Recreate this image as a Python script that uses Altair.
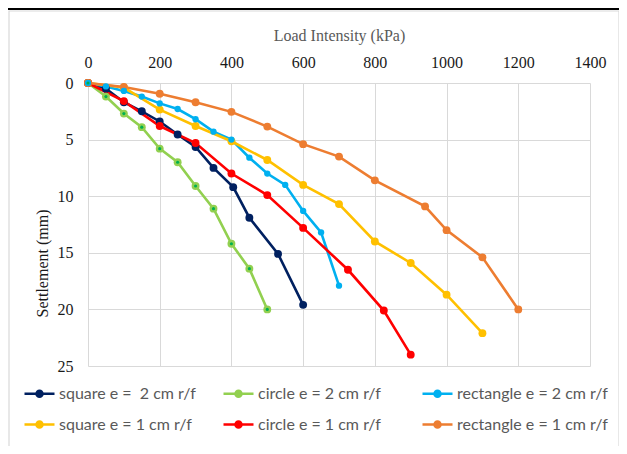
import altair as alt
import pandas as pd

series_names = [
    "square e =  2 cm r/f",
    "circle e = 2 cm r/f",
    "rectangle e = 2 cm r/f",
    "square e = 1 cm r/f",
    "circle e = 1 cm r/f",
    "rectangle e = 1 cm r/f",
]
series_colors = ["#002060", "#92d050", "#00b0f0", "#ffc000", "#ff0000", "#ed7d31"]

sq2_load = [0, 50, 100, 150, 200, 250, 300, 350, 405, 450, 530, 600]
sq2_settle = [0, 0.5, 1.7, 2.5, 3.4, 4.55, 5.65, 7.5, 9.2, 11.9, 15.1, 19.6]

ci2_load = [0, 50, 100, 150, 200, 250, 300, 350, 400, 450, 500]
ci2_settle = [0, 1.2, 2.7, 3.9, 5.8, 7.0, 9.1, 11.1, 14.2, 16.4, 20.0]

re2_load = [0, 50, 100, 150, 200, 250, 300, 350, 400, 450, 500, 550, 600, 650, 700]
re2_settle = [0, 0.3, 0.7, 1.2, 1.8, 2.3, 3.2, 4.3, 5.0, 6.6, 8.0, 9.0, 11.3, 13.2, 17.9]

sq1_load = [0, 100, 200, 300, 400, 500, 600, 700, 800, 900, 1000, 1100]
sq1_settle = [0, 0.4, 2.35, 3.8, 5.15, 6.8, 9.0, 10.7, 14.0, 15.9, 18.7, 22.1]

ci1_load = [0, 100, 200, 300, 400, 500, 600, 725, 825, 900]
ci1_settle = [0, 1.6, 3.8, 5.3, 8.0, 9.9, 12.8, 16.5, 20.1, 24.0]

re1_load = [0, 100, 200, 300, 400, 500, 600, 700, 800, 940, 1000, 1100, 1200]
re1_settle = [0, 0.35, 0.95, 1.7, 2.55, 3.85, 5.4, 6.5, 8.6, 10.9, 13.0, 15.4, 20.0]

x_ticks = [0, 200, 400, 600, 800, 1000, 1200, 1400]
y_ticks = [0, 5, 10, 15, 20, 25]

loads = [sq2_load, ci2_load, re2_load, sq1_load, ci1_load, re1_load]
settles = [sq2_settle, ci2_settle, re2_settle, sq1_settle, ci1_settle, re1_settle]

rows = []
for name, xs, ys in zip(series_names, loads, settles):
    for i, (xv, yv) in enumerate(zip(xs, ys)):
        rows.append({"series": name, "load": xv, "settlement": yv, "idx": i})
df = pd.DataFrame(rows)

# legend glyph: a horizontal line with a solid dot (built from concentric rings)
legend_symbol = (
    "M-1,0L1,0"
    "M-0.2,0A0.2,0.2,0,1,0,0.2,0A0.2,0.2,0,1,0,-0.2,0"
    "M-0.08,0A0.08,0.08,0,1,0,0.08,0A0.08,0.08,0,1,0,-0.08,0"
)
serif = "Liberation Serif"

x_enc = alt.X(
    "load:Q",
    scale=alt.Scale(domain=[0, 1400], nice=False),
    axis=alt.Axis(
        orient="top",
        values=x_ticks,
        format="d",
        labelFlush=False,
        labelFont=serif,
        labelFontSize=16,
        labelColor="#1a1a1a",
        labelPadding=13,
        title="Load Intensity (kPa)",
        titleFont=serif,
        titleFontSize=16,
        titleFontWeight="normal",
        titleColor="#595959",
        titleY=-48,
        titleBaseline="middle",
    ),
)
y_enc = alt.Y(
    "settlement:Q",
    scale=alt.Scale(domain=[0, 25], reverse=True, nice=False),
    axis=alt.Axis(
        values=y_ticks,
        labelFlush=False,
        labelFont=serif,
        labelFontSize=16,
        labelColor="#1a1a1a",
        labelPadding=15,
        title="Settlement (mm)",
        titleFont=serif,
        titleFontSize=16,
        titleFontWeight="normal",
        titleColor="#1a1a1a",
        titleX=-46,
        titleY=180,
        titleAngle=270,
        titleAlign="center",
        titleBaseline="middle",
    ),
)
color_scale = alt.Scale(domain=series_names, range=series_colors)
color_enc = alt.Color(
    "series:N",
    scale=color_scale,
    legend=alt.Legend(
        title=None,
        orient="none",
        direction="horizontal",
        legendX=-65,
        legendY=294,
        columns=3,
        symbolType=legend_symbol,
        symbolSize=900,
        symbolStrokeWidth=2.5,
        labelFont="Lato",
        labelFontSize=16,
        labelColor="#595959",
        labelExpr="replace(datum.label, '  ', ' \u00a0')",
        columnPadding=8,
        rowPadding=6,
        labelOffset=3,
        gridAlign="all",
        padding=0,
    ),
)

lines = alt.Chart(df).mark_line(strokeWidth=2.6).encode(
    x=x_enc,
    y=y_enc,
    color=color_enc,
    order="idx:Q",
)

points = (
    alt.Chart(df)
    .transform_filter(alt.datum.series != "rectangle e = 2 cm r/f")
    .mark_circle(opacity=1, size=62)
    .encode(
        x=alt.X("load:Q"),
        y=alt.Y("settlement:Q"),
        color=alt.Color("series:N", legend=None),
    )
)

blue_points = (
    alt.Chart(df)
    .transform_filter(alt.datum.series == "rectangle e = 2 cm r/f")
    .mark_circle(opacity=1, size=40, color="#00b0f0")
    .encode(x="load:Q", y="settlement:Q")
)

green_dots = (
    alt.Chart(df)
    .transform_filter(alt.datum.series == "circle e = 2 cm r/f")
    .mark_circle(opacity=1, color="#00b050", size=10)
    .encode(x="load:Q", y="settlement:Q")
)

frame = alt.Chart(pd.DataFrame({"a": [0]})).mark_rect(
    fill="transparent", stroke="#d9d9d9", strokeWidth=1.2
).encode(
    x=alt.value(-79), x2=alt.value(531), y=alt.value(-72), y2=alt.value(420)
)

top_bar = alt.Chart(pd.DataFrame({"b": [1]})).mark_rect(
    fill="#000000", opacity=1
).encode(x=alt.value(-83), x2=alt.value(540), y=alt.value(-95), y2=alt.value(-73))

chart = (
    alt.layer(frame, top_bar, lines, points, blue_points, green_dots)
    .resolve_scale(color="shared")
    .properties(
        width=502,
        height=283,
        autosize=alt.AutoSizeParams(type="none"),
        padding={"left": 80, "top": 75, "right": 29, "bottom": 80},
    )
    .configure_view(stroke=None)
    .configure_axis(
        grid=True,
        gridColor="#d9d9d9",
        gridWidth=1,
        domain=False,
        ticks=False,
    )
)

chart.save("out.html", embed_options={"renderer": "svg", "actions": False})
